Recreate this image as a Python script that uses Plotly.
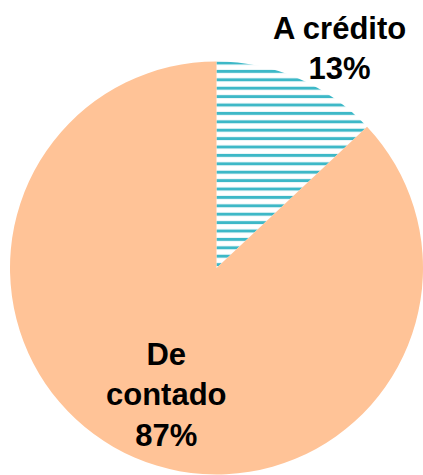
import plotly.graph_objects as go

labels = ["A crédito", "De contado"]
values = [13, 87]
label_text = ["A crédito<br>13%", "De<br>contado<br>87%"]
colors = ["#FFFFFF", "#FFC397"]

W, H = 423, 475

fig = go.Figure(go.Pie(
    labels=labels,
    values=values,
    sort=False,
    direction="clockwise",
    rotation=0,
    textinfo="none",
    hoverinfo="label+percent",
    marker=dict(
        colors=colors,
        line=dict(width=0),
        pattern=dict(shape=["-", ""], fgcolor="#3DB8C7", fgopacity=1,
                     bgcolor=["#FFFFFF", "#FFC397"],
                     size=8.4, solidity=0.36, fillmode="overlay"),
    ),
    domain=dict(x=[10 / W, 1.0], y=[0.0, 414 / H]),
    showlegend=False,
))

ann_pos = [(339, 48), (166, 395)]
for txt, (px, py) in zip(label_text, ann_pos):
    fig.add_annotation(
        text="<b>" + txt + "</b>", x=px / W, y=1 - py / H, xref="paper", yref="paper",
        xanchor="center", yanchor="middle", showarrow=False,
        font=dict(family="Liberation Sans, Arial, sans-serif", size=31, color="#000000"),
    )

fig.update_layout(
    width=W, height=H,
    margin=dict(l=0, r=0, t=0, b=0),
    paper_bgcolor="#FFFFFF",
    plot_bgcolor="#FFFFFF",
)

fig.write_html("out.html", config={"displayModeBar": False},
               post_script="document.body.style.margin='0';document.body.style.overflow='hidden';")
